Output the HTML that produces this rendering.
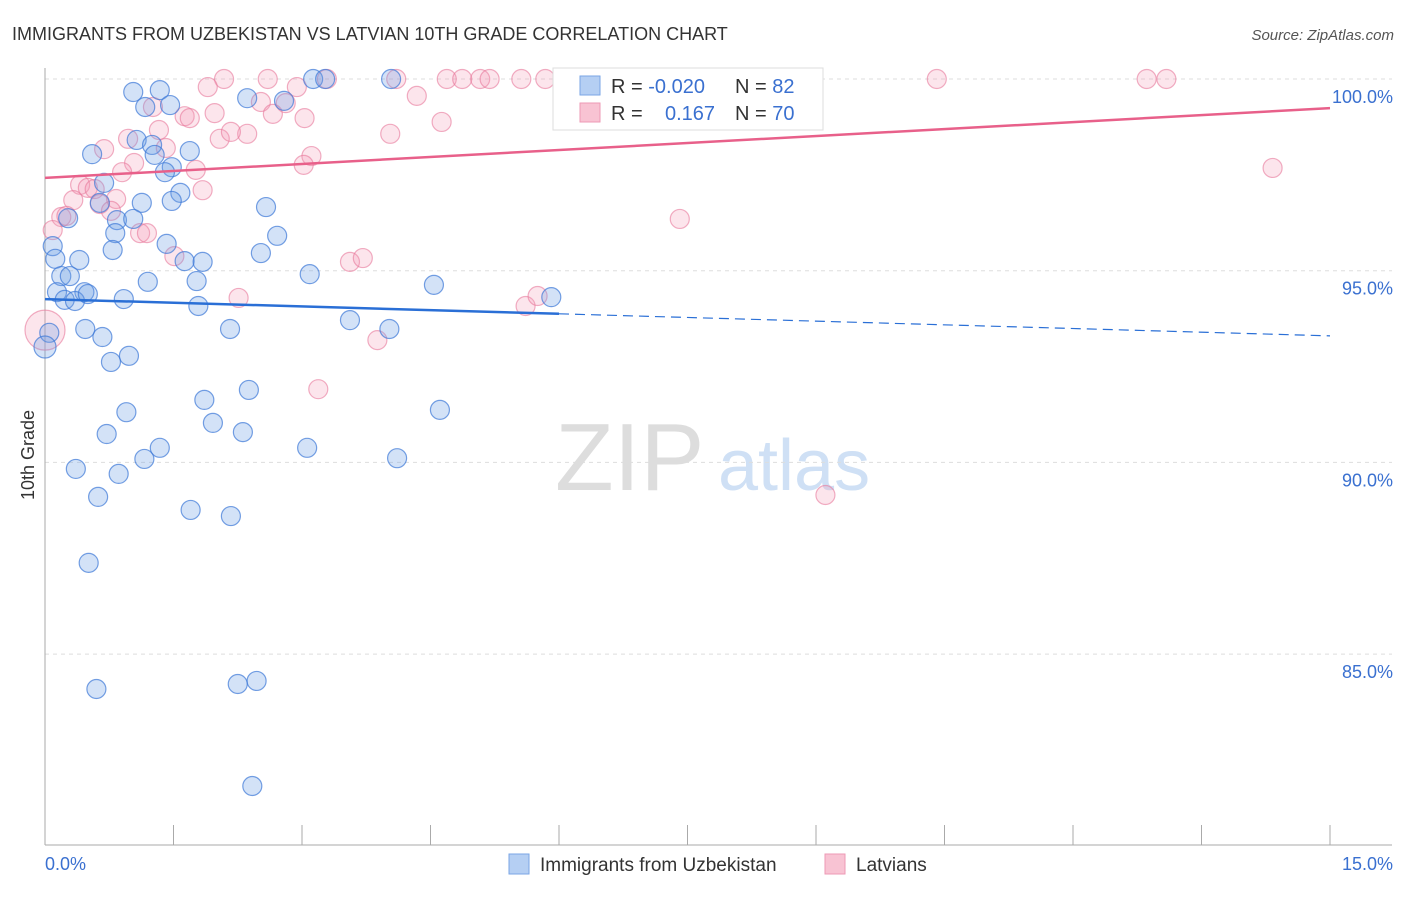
<!DOCTYPE html>
<html><head><meta charset="utf-8"><style>
body{margin:0;background:#fff;font-family:"Liberation Sans",sans-serif}
svg text{font-family:"Liberation Sans",sans-serif}
</style></head><body>
<svg id="chart" width="1406" height="892" viewBox="0 0 1406 892" xmlns="http://www.w3.org/2000/svg">
<text x="12" y="40" font-size="18" fill="#333">IMMIGRANTS FROM UZBEKISTAN VS LATVIAN 10TH GRADE CORRELATION CHART</text>
<text x="1394" y="40" font-size="15" fill="#555" text-anchor="end" font-style="italic">Source: ZipAtlas.com</text>
<text x="555" y="490" font-size="96" fill="#ddd" font-family="Liberation Serif">ZIP</text>
<text x="718" y="490" font-size="72" fill="#cfe0f5">atlas</text>
<g id="grid"></g><g id="marks"></g>
<text transform="translate(34,455) rotate(-90)" font-size="18" fill="#333" text-anchor="middle">10th Grade</text>
<g>
<rect x="553" y="68" width="270" height="62" fill="#fff" stroke="#ddd"/>
<rect x="580" y="76" width="20" height="19" fill="#b5cff3" stroke="#7aa6e6"/>
<rect x="580" y="103" width="20" height="19" fill="#f8c3d3" stroke="#ee9ab5"/>
<text x="611" y="93" font-size="20" fill="#333">R = <tspan fill="#3a70d0">-0.020</tspan></text>
<text x="735" y="93" font-size="20" fill="#333">N = <tspan fill="#3a70d0">82</tspan></text>
<text x="611" y="120" font-size="20" fill="#333">R = </text>
<text x="665" y="120" font-size="20" fill="#3a70d0">0.167</text>
<text x="735" y="120" font-size="20" fill="#333">N = <tspan fill="#3a70d0">70</tspan></text>
</g>
<g>
<rect x="509" y="854" width="20" height="20" fill="#b5cff3" stroke="#7aa6e6"/>
<text x="540" y="871" font-size="19" fill="#333">Immigrants from Uzbekistan</text>
<rect x="825" y="854" width="20" height="20" fill="#f8c3d3" stroke="#ee9ab5"/>
<text x="856" y="871" font-size="19" fill="#333">Latvians</text>
</g>
</svg>
<script>
const blueX=[1.03,1.34,1.17,1.46,2.36,2.79,3.13,3.27,4.04,1.07,1.25,1.28,1.48,1.40,1.69,0.55,0.69,1.58,1.48,1.13,0.64,0.84,1.03,0.82,0.79,2.58,2.71,2.52,1.42,1.63,1.84,1.77,1.20,0.09,0.12,0.40,0.19,0.29,0.14,0.46,0.23,0.35,0.50,0.92,1.79,3.09,4.54,5.91,0.05,0.00,0.47,0.67,0.98,0.77,2.16,3.56,4.02,2.38,0.95,1.86,0.72,1.96,2.31,0.36,0.86,1.16,1.34,3.06,4.11,4.61,0.62,1.70,2.17,0.51,0.60,2.25,2.47,2.42,0.27];
const blueY=[99.66,99.71,99.27,99.32,99.50,99.43,100,100,100,98.41,98.28,98.02,97.70,97.57,98.12,98.04,97.29,97.03,96.82,96.77,96.77,96.32,96.35,95.98,95.54,96.66,95.91,95.46,95.70,95.25,95.23,94.73,94.71,95.64,95.31,95.28,94.86,94.86,94.44,94.44,94.24,94.21,94.39,94.26,94.08,94.91,94.63,94.31,93.38,93.01,93.48,93.27,92.78,92.62,93.48,93.71,93.48,91.89,91.31,91.63,90.74,91.03,90.79,89.83,89.70,90.09,90.38,90.38,90.11,91.37,89.10,88.76,88.60,87.38,84.09,84.22,84.30,81.56,96.37];
const pinkX=[2.09,2.60,2.94,3.29,4.10,4.69,4.87,5.08,5.19,5.56,5.84,6.08,7.97,8.54,10.41,12.86,13.09,1.90,2.52,2.81,4.34,1.26,1.63,1.69,1.98,2.66,3.03,4.63,4.03,1.33,0.97,0.69,1.41,2.04,2.36,2.17,3.11,3.02,1.04,1.76,0.90,0.41,0.50,0.58,0.83,0.33,0.64,0.77,0.19,0.25,0.09,1.11,1.19,1.84,1.51,3.56,3.71,2.26,5.61,5.75,3.88,3.19,7.41,14.33,9.11,0.0];
const pinkY=[100,100,99.79,100,100,100,100,100,100,100,100,99.30,100,100,100,100,100,99.79,99.40,99.37,99.56,99.27,99.03,98.98,99.11,99.09,98.98,98.88,98.57,98.67,98.44,98.17,98.20,98.44,98.57,98.62,97.99,97.76,97.81,97.63,97.57,97.24,97.16,97.13,96.87,96.84,96.74,96.56,96.40,96.43,96.06,95.98,95.98,97.10,95.38,95.23,95.33,94.29,94.08,94.34,93.19,91.91,96.35,97.68,89.15,93.45];
const yTicks=[100,95,90,85];
const yTickLabels=["100.0%","95.0%","90.0%","85.0%"];
const xTicks=[0,1.5,3,4.5,6,7.5,9,10.5,12,13.5,15];
const xEndLabels=["0.0%","15.0%"];
const blueTrend=[94.26,93.30]; // y at x=0 and x=15
const pinkTrend=[97.42,99.24];
const blueSolidEnd=6.0;

const NS="http://www.w3.org/2000/svg";
const X0=45,X1=1330,Y100=79,PX_PER_PCT=38.34;
const sx=v=>X0+(v/15)*(X1-X0);
const sy=v=>Y100+(100-v)*PX_PER_PCT;
function mk(tag,attrs,parent){const e=document.createElementNS(NS,tag);for(const k in attrs)e.setAttribute(k,attrs[k]);parent.appendChild(e);return e;}
const grid=document.getElementById('grid'),marks=document.getElementById('marks');
yTicks.forEach((t,i)=>{
  const l=mk('line',{x1:X0,x2:1392,y1:sy(t),y2:sy(t),stroke:'#ddd','stroke-dasharray':'4,4'},grid);
  
  
  const tx=mk('text',{x:1393,y:sy(t)+24,'font-size':18,fill:'#3a70d0','text-anchor':'end'},grid);
  tx.textContent=yTickLabels[i];
  
  
});
const ax=mk('line',{x1:X0,x2:X0,y1:68,y2:845,stroke:'#aaa'},grid);


const bx=mk('line',{x1:X0,x2:1392,y1:845,y2:845,stroke:'#aaa'},grid);


xTicks.forEach(t=>{
  const l=mk('line',{x1:sx(t),x2:sx(t),y1:825,y2:845,stroke:'#aaa'},grid);
  
  
});
[[0,'start',45],[15,'end',1393]].forEach((d,i)=>{
  const t=mk('text',{x:d[2],y:870,'font-size':18,fill:'#3a70d0','text-anchor':d[1]},grid);
  t.textContent=xEndLabels[i];
  
  
});
pinkX.forEach((x,i)=>{
  const r=(i===pinkX.length-1)?20:9.5;
  const c=mk('circle',{cx:sx(x),cy:sy(pinkY[i]),r:r,fill:'rgba(244,150,180,0.25)',stroke:'rgba(232,120,155,0.6)','stroke-width':1.2},marks);
  
  
});
blueX.forEach((x,i)=>{
  const c=mk('circle',{cx:sx(x),cy:sy(blueY[i]),r:(i===49?11:9.5),fill:'rgba(110,160,230,0.3)',stroke:'rgba(60,120,215,0.7)','stroke-width':1.2},marks);
  
  
});
const by=x=>blueTrend[0]+(blueTrend[1]-blueTrend[0])*x/15;
const l1=mk('line',{x1:sx(0),y1:sy(pinkTrend[0]),x2:sx(15),y2:sy(pinkTrend[1]),stroke:'#e8608a','stroke-width':2.5},marks);


const l2=mk('line',{x1:sx(0),y1:sy(by(0)),x2:sx(blueSolidEnd),y2:sy(by(blueSolidEnd)),stroke:'#2a6fd6','stroke-width':2.5},marks);


const l3=mk('line',{x1:sx(blueSolidEnd),y1:sy(by(blueSolidEnd)),x2:sx(15),y2:sy(by(15)),stroke:'#2a6fd6','stroke-width':1.2,'stroke-dasharray':'10,6'},marks);


</script>
</body></html>
